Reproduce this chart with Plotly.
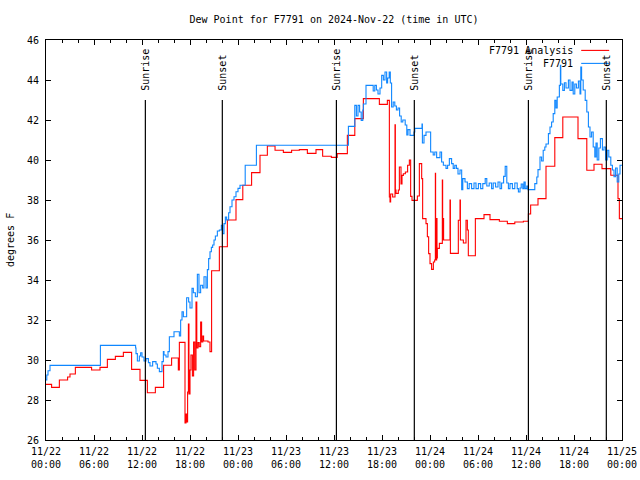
import plotly.graph_objects as go

# hours since 2024-11-22 00:00 UTC
red_hours = [0, 0.7, 1.67, 2.7, 3.0, 3.67, 5.7, 6.75, 7.67, 8.67, 9.67, 10.7, 11.75, 12.67, 13.67,
             14.7, 15.7, 16.54, 16.67, 17.375, 17.5, 17.6, 17.7, 17.8, 17.87, 18.0, 18.12, 18.3,
             18.45, 18.6, 18.75, 18.85, 19.0, 19.15, 19.33, 19.45, 19.6, 19.7, 20.25, 20.5, 20.7,
             21.67, 22.67, 23.75, 24.6, 25.7, 26.75, 27.67, 28.63, 29.67, 30.7, 31.67, 32.67, 33.75,
             34.58, 35.67, 36.4, 37.67, 38.6, 39.67, 41.67, 42.67, 42.92, 43.0, 43.08, 43.33, 43.625,
             43.67, 43.75, 44.04, 44.17, 44.375, 44.5, 44.67, 44.92, 45.2, 45.42, 45.58, 45.75,
             46.42, 46.67, 46.96, 47.08, 47.5, 47.67, 47.83, 48.0, 48.2, 48.42, 48.58, 48.67, 48.7,
             48.83, 48.875, 48.92, 49.17, 49.54, 49.58, 49.67, 49.7, 50.5, 50.55, 51.54, 51.75, 51.8,
             52.17, 52.5, 52.67, 52.79, 53.67, 54.75, 55.5, 56.67, 57.67, 58.6, 59.67, 60.3, 60.58,
             61.5, 62.5, 63.6, 64.6, 66.5, 67.6, 68.5, 69.5, 70.6, 71.5, 71.67, 72]
red_values = [28.78, 28.63, 29.0, 29.15, 29.3, 29.63, 29.5, 29.63, 30.03, 30.18, 30.38, 29.53, 28.98, 28.36, 28.63,
              29.74, 30.1, 29.5, 30.88, 26.85, 27.3, 26.9, 28.4, 31.8, 28.3, 29.5, 30.25, 29.2,
              30.9, 29.5, 32.9, 30.6, 30.87, 30.66, 31.9, 30.9, 31.2, 30.95, 30.9, 30.42, 34.46,
              35.66, 37.0, 38.02, 38.74, 39.37, 40.24, 40.7, 40.49, 40.38, 40.49, 40.52, 40.33, 40.52,
              40.19, 40.13, 40.32, 41.23, 42.07, 43.07, 42.78, 42.98, 38.15, 37.9, 38.3, 38.15, 41.76,
              38.5, 38.33, 38.5, 39.65, 38.8, 39.23, 39.31, 39.4, 39.74, 40.0, 38.18, 37.98,
              38.2, 39.82, 39.07, 37.07, 36.82, 36.16, 35.32, 34.82, 34.53, 34.9, 35.0, 39.33, 35.0,
              37.07, 35.1, 35.58, 35.83, 39.0, 36.0, 37.07, 36.0, 38.0, 35.33, 36.99, 38.0, 36.0,
              35.85, 36.99, 36.5, 35.21, 37.07, 37.27, 37.02, 36.94, 36.82, 36.9, 36.94, 37.3, 37.75,
              38.07, 39.69, 41.12, 42.15, 41.07, 39.49, 39.79, 39.57, 39.24, 38.07, 37.07, 37.07]

blue_hours = [0, 0.1, 0.25, 0.5, 6.8, 11.2, 11.25, 11.42, 11.67, 11.83, 12.0, 12.25, 12.5, 12.8, 13.0,
              13.33, 13.75, 13.92, 14.17, 14.5, 14.67, 14.75, 15.0, 15.25, 15.42, 16.0, 16.67, 16.83,
              17.0, 17.17, 17.58, 17.83, 18.0, 18.25, 18.42, 18.67, 18.92, 19.12, 19.33, 19.58, 19.75,
              20.0, 20.17, 20.33, 20.5, 20.67, 20.83, 21.0, 21.17, 21.42, 21.67, 21.92, 22.08, 22.25,
              22.42, 22.58, 22.83, 23.0, 23.25, 23.5, 23.75, 24.0, 24.25, 24.9, 26.3, 37.8, 38.6,
              38.8, 39.0, 39.2, 39.4, 39.6, 39.67, 40.0, 40.9, 41.1, 41.3, 41.5, 41.75, 41.96, 42.17,
              42.375, 42.58, 42.7, 42.9, 43.04, 43.2, 43.4, 43.6, 43.8, 44.0, 44.2, 44.4, 44.6, 44.9,
              45.1, 45.25, 45.5, 46.0, 46.1, 47.0, 47.05, 47.25, 47.5, 48.08, 48.4, 48.6, 48.83,
              49.25, 49.45, 49.67, 50.0, 50.2, 50.42, 50.7, 50.9, 51.1, 51.3, 51.5, 51.75, 51.96,
              52.1, 52.375, 52.67, 52.9, 53.2, 53.5, 53.75, 54.05, 54.33, 54.6, 54.9, 55.1, 55.4,
              55.7, 55.9, 56.2, 56.5, 56.75, 56.95, 57.2, 57.4, 57.6, 57.8, 58.0, 58.3, 58.6, 58.9,
              59.05, 59.25, 59.4, 59.6, 59.75, 59.9, 60.1, 60.25, 61.1, 61.35, 61.5, 61.75, 61.95,
              62.15, 62.35, 62.5, 62.8, 63.0, 63.2, 63.4, 63.6, 63.75, 63.9, 64.17, 64.3, 64.35,
              64.6, 64.8, 65.0, 65.3, 65.5, 65.75, 65.9, 66.1, 66.3, 66.55, 66.75, 66.85, 66.95,
              67.15, 67.4, 67.6, 67.8, 68.0, 68.2, 68.4, 68.6, 68.75, 68.9, 69.1, 69.3, 69.55, 69.75,
              69.95, 70.15, 70.35, 70.6, 70.8, 71.0, 71.2, 71.4, 71.6, 71.75, 72]
blue_values = [29.0, 29.25, 29.46, 29.73, 30.73, 30.6, 30.32, 29.95, 30.2, 30.36, 30.15, 29.95, 30.07, 29.87, 29.7,
               29.92, 29.8, 29.59, 29.42, 29.92, 30.42, 30.25, 30.15, 30.42, 31.16, 31.41, 31.2, 32.0,
               32.41, 32.16, 33.11, 32.9, 32.6, 33.58, 33.36, 33.16, 34.29, 33.36, 33.74, 33.6, 34.16,
               33.6, 34.52, 35.07, 35.41, 35.63, 35.75, 36.0, 36.2, 36.45, 36.5, 36.74, 36.32, 36.82,
               37.15, 37.0, 37.36, 37.66, 38.0, 38.16, 38.41, 38.58, 38.74, 39.74, 40.74, 41.68, 42.73,
               42.2, 42.73, 42.4, 41.98, 42.5, 42.8, 43.73, 43.45, 43.73, 43.5, 43.3, 43.6, 44.23, 44.0,
               44.4, 43.85, 44.1, 44.4, 43.85, 42.65, 42.9, 42.7, 42.5, 42.6, 42.2, 41.9, 42.0, 41.75,
               41.25, 41.52, 41.23, 41.4, 41.58, 41.8, 40.85, 41.23, 41.4, 40.4, 40.25, 40.4, 40.12,
               40.4, 39.9, 39.74, 39.58, 39.74, 40.07, 39.82, 39.58, 39.74, 39.58, 39.3, 39.5, 38.52,
               39.07, 38.9, 38.57, 38.82, 38.57, 38.85, 38.57, 38.82, 38.57, 38.82, 39.07, 38.7, 38.85,
               38.57, 38.85, 38.65, 38.9, 38.57, 38.85, 39.18, 39.68, 38.85, 38.57, 38.82, 38.57, 38.85, 38.57,
               38.4, 38.6, 38.8, 38.57, 38.9, 38.57, 38.7, 38.52, 38.82, 39.15, 39.52, 40.15, 39.95,
               40.49, 40.65, 40.8, 41.32, 41.65, 41.9, 42.32, 42.98, 42.6, 43.15, 43.73, 44.73, 43.8,
               43.48, 43.86, 43.6, 44.0, 43.48, 43.9, 43.3, 43.8, 43.6, 43.95, 43.3, 44.65, 44.0,
               43.5, 42.98, 42.4, 41.65, 41.15, 41.4, 40.65, 40.15, 40.85, 40.0, 40.6, 41.07, 40.5, 40.65,
               40.0, 40.49, 40.15, 39.74, 39.5, 39.16, 39.6, 38.9, 39.3, 39.74, 39.74]

sun_events = [12.42, 22.04, 36.3, 46.04, 60.3, 70.04]
sun_labels = ["Sunrise", "Sunset", "Sunrise", "Sunset", "Sunrise", "Sunset"]

tick_hours = [0, 6, 12, 18, 24, 30, 36, 42, 48, 54, 60, 66, 72]
tick_labels = ["11/22<br>00:00", "11/22<br>06:00", "11/22<br>12:00", "11/22<br>18:00",
               "11/23<br>00:00", "11/23<br>06:00", "11/23<br>12:00", "11/23<br>18:00",
               "11/24<br>00:00", "11/24<br>06:00", "11/24<br>12:00", "11/24<br>18:00",
               "11/25<br>00:00"]

FONT = "DejaVu Sans Mono"
RED = "#ff0000"
BLUE = "#0f87ff"

# plot box at x 46..622, y 40..440 (page body margin is removed below)
ML, MR, MT, MB = 46, 18, 40, 40
PW = 640 - ML - MR
PH = 480 - MT - MB

fig = go.Figure()
fig.add_trace(go.Scatter(x=red_hours, y=red_values, mode="lines", line_shape="hv",
                         line=dict(color=RED, width=1.1), name="F7791 Analysis", showlegend=False))
fig.add_trace(go.Scatter(x=blue_hours, y=blue_values, mode="lines", line_shape="hv",
                         line=dict(color=BLUE, width=1.1), name="F7791", showlegend=False))

for h, lab in zip(sun_events, sun_labels):
    fig.add_shape(type="line", xref="x", yref="y", x0=h, x1=h, y0=26, y1=43.0,
                  line=dict(color="black", width=1.2), layer="above")
    fig.add_annotation(x=h, y=43.38, xref="x", yref="y", text=lab, textangle=-90,
                       showarrow=False, xanchor="center", yanchor="bottom",
                       font=dict(family=FONT, size=10, color="black"))

# manual legend (gnuplot style: text then line sample)
legend_items = [("F7791 Analysis", RED, 45.48), ("F7791", BLUE, 44.83)]
for txt, col, yv in legend_items:
    fig.add_annotation(x=66.15, y=yv, xref="x", yref="y", text=txt, showarrow=False,
                       xanchor="right", yanchor="middle",
                       font=dict(family=FONT, size=10, color="black"))
    fig.add_shape(type="line", xref="x", yref="y", x0=66.9, x1=70.4, y0=yv, y1=yv,
                  line=dict(color=col, width=1.1))

# y-axis title, placed by pixel position
fig.add_annotation(x=(10 - ML) / PW, y=(PH + MT - 240) / PH, xref="paper", yref="paper",
                   text="degrees F", showarrow=False, textangle=-90,
                   xanchor="center", yanchor="middle",
                   font=dict(family=FONT, size=10, color="black"))

fig.update_layout(
    template="none",
    width=640, height=480,
    margin=dict(l=ML, r=MR, t=MT, b=MB, pad=0),
    paper_bgcolor="white", plot_bgcolor="white",
    hovermode=False,
    title=dict(text="Dew Point for F7791 on 2024-Nov-22 (time in UTC)", x=0.5, xref="paper",
               xanchor="center", y=1 - 19 / 480, yanchor="middle", yref="container",
               font=dict(family=FONT, size=10, color="black")),
    font=dict(family=FONT, size=10, color="black"),
)

fig.update_xaxes(range=[0, 72], tickvals=tick_hours, ticktext=tick_labels, ticks="inside",
                 ticklen=5, tickcolor="black", showline=True, linecolor="black", linewidth=1,
                 mirror="ticks", showgrid=False, zeroline=False, automargin=False,
                 ticklabelstandoff=2,
                 minor=dict(dtick=2, tick0=0, ticks="inside", ticklen=3, tickcolor="black",
                            showgrid=False),
                 tickfont=dict(family=FONT, size=10, color="black"))
fig.update_yaxes(range=[26, 46], dtick=2, tick0=26, ticks="inside", ticklen=5, tickcolor="black",
                 showline=True, linecolor="black", linewidth=1, mirror="ticks", showgrid=False,
                 zeroline=False, automargin=False, ticklabelstandoff=4,
                 tickfont=dict(family=FONT, size=10, color="black"))

fig.write_html("out.html", config={"displayModeBar": False, "staticPlot": True},
               post_script="document.body.style.margin='0';document.documentElement.style.overflow='hidden';")
